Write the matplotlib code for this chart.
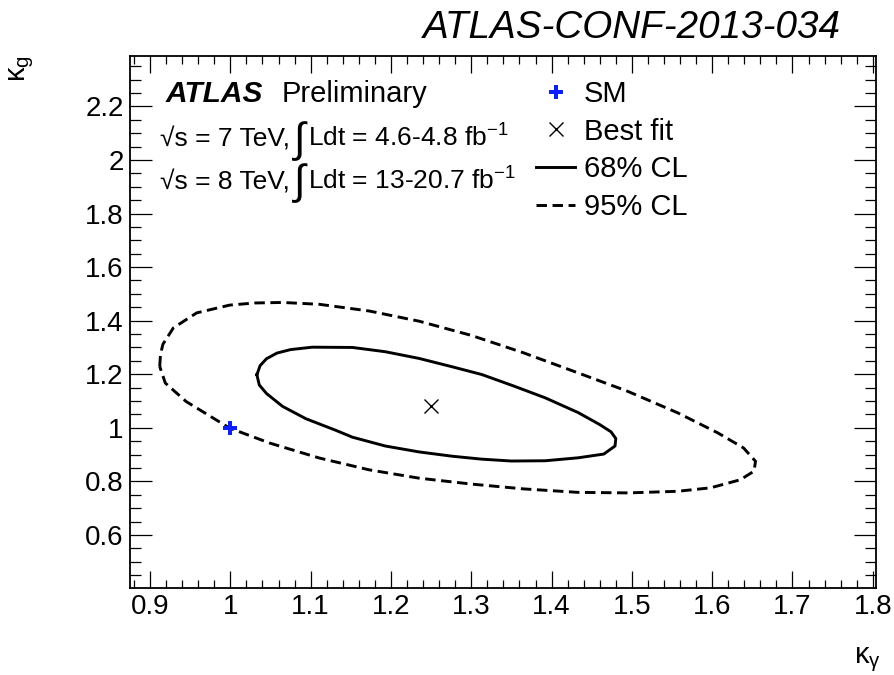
import numpy as np
import matplotlib
matplotlib.use("Agg")
import matplotlib.pyplot as plt
from matplotlib.ticker import MultipleLocator, FuncFormatter

plt.rcParams['font.family'] = ['Liberation Sans', 'DejaVu Sans']
plt.rcParams['mathtext.fontset'] = 'custom'
plt.rcParams['mathtext.rm'] = 'Liberation Sans'
plt.rcParams['mathtext.it'] = 'Liberation Sans:italic'
plt.rcParams['mathtext.bf'] = 'Liberation Sans:bold'

# ---------------------------------------------------------------------------
# Data: (kappa_gamma, kappa_g) plane
# ---------------------------------------------------------------------------

SM_KGAMMA, SM_KG = [1.0], [1.0]
BEST_KGAMMA, BEST_KG = [1.25], [1.08]

# 68% CL contour around the best fit
CL68_KGAMMA = [1.033, 1.037, 1.045, 1.058, 1.075, 1.102, 1.152, 1.193, 1.235,
               1.276, 1.313, 1.352, 1.392, 1.433, 1.460, 1.474, 1.480, 1.479,
               1.465, 1.433, 1.392, 1.350, 1.313, 1.276, 1.235, 1.193, 1.152,
               1.131, 1.094, 1.065, 1.045, 1.036]
CL68_KG = [1.198, 1.232, 1.258, 1.279, 1.292, 1.301, 1.300, 1.284, 1.259,
           1.228, 1.199, 1.157, 1.112, 1.057, 1.012, 0.985, 0.960, 0.932,
           0.902, 0.888, 0.877, 0.876, 0.883, 0.894, 0.910, 0.932, 0.965,
           0.991, 1.034, 1.080, 1.128, 1.160]

# 95% CL contour
CL95_KGAMMA = [0.912, 0.913, 0.916, 0.929, 0.958, 0.999, 1.030, 1.065, 1.111,
               1.173, 1.235, 1.300, 1.365, 1.433, 1.495, 1.557, 1.607, 1.639,
               1.654, 1.652, 1.635, 1.598, 1.557, 1.495, 1.433, 1.365, 1.300,
               1.235, 1.173, 1.111, 1.049, 0.999, 0.945, 0.919]
CL95_KG = [1.229, 1.275, 1.312, 1.373, 1.429, 1.458, 1.466, 1.468, 1.461,
           1.436, 1.398, 1.345, 1.280, 1.205, 1.136, 1.056, 0.981, 0.925,
           0.875, 0.838, 0.806, 0.776, 0.763, 0.757, 0.759, 0.772, 0.790,
           0.812, 0.843, 0.887, 0.943, 0.999, 1.098, 1.167]

XLIM = (0.875, 1.804)
YLIM = (0.402, 2.388)


def closed(vals):
    return np.append(vals, vals[0])


# ---------------------------------------------------------------------------
# Plot
# ---------------------------------------------------------------------------

W, H = 894, 675
fig = plt.figure(figsize=(W / 100, H / 100), dpi=100)
ax = fig.add_axes([130 / W, (H - 588) / H, 746 / W, 532 / H])

h68, = ax.plot(closed(CL68_KGAMMA), closed(CL68_KG), color='black', lw=2.1,
               solid_joinstyle='round')
h95, = ax.plot(closed(CL95_KGAMMA), closed(CL95_KG), color='black', lw=2.1,
               linestyle=(0, (3.6, 1.9)))
hsm, = ax.plot(SM_KGAMMA, SM_KG, linestyle='none', marker='P', ms=9.5,
               color='#0a1eff', mew=0)
hbf, = ax.plot(BEST_KGAMMA, BEST_KG, linestyle='none', marker='x', ms=10,
               color='black', mew=1.0)

ax.set_xlim(*XLIM)
ax.set_ylim(*YLIM)

fmt = FuncFormatter(lambda v, pos: f'{v:g}')
ax.xaxis.set_major_locator(MultipleLocator(0.1))
ax.xaxis.set_minor_locator(MultipleLocator(0.02))
ax.yaxis.set_major_locator(MultipleLocator(0.2))
ax.yaxis.set_minor_locator(MultipleLocator(0.05))
ax.xaxis.set_major_formatter(fmt)
ax.yaxis.set_major_formatter(fmt)

ax.tick_params(which='both', direction='in', top=True, right=True,
               labelsize=20, width=0.9, color='black')
ax.tick_params(axis='x', which='major', length=12, pad=4.5)
ax.tick_params(axis='x', which='minor', length=5.8)
ax.tick_params(axis='y', which='major', length=16, pad=4.5)
ax.tick_params(axis='y', which='minor', length=8)
for sp in ax.spines.values():
    sp.set_linewidth(1.3)

# axis titles, ROOT style at the ends of the axes
fig.text(22 / W, 1 - 55 / H, r'$\mathrm{\kappa_{g}}$', rotation=90,
         ha='center', va='top', fontsize=21)
fig.text(881 / W, 1 - 663 / H, r'$\mathrm{\kappa_{\gamma}}$',
         ha='right', va='baseline', fontsize=21)

fig.text(841 / W, 1 - 38 / H, 'ATLAS-CONF-2013-034', ha='right',
         va='baseline', fontsize=27.8, style='italic')


def ax_pos(px, py):
    return ((px - 130) / 746, (588 - py) / 532)


ax.text(*ax_pos(166, 102), 'ATLAS', transform=ax.transAxes, fontsize=21.5,
        fontweight='bold', style='italic', va='baseline')
ax.text(*ax_pos(282, 102), 'Preliminary', transform=ax.transAxes,
        fontsize=21, va='baseline')

lumi_lines = [('7', '4.6-4.8', 147), ('8', '13-20.7', 189.5)]
for sqrt_s, lumi, base in lumi_lines:
    ax.text(*ax_pos(160, base), f'\u221as = {sqrt_s} TeV,',
            transform=ax.transAxes, fontsize=19, va='baseline')
    ax.text(*ax_pos(294, base + 5), '\u222b', transform=ax.transAxes,
            fontsize=30, va='baseline')
    ax.text(*ax_pos(308, base), f'Ldt = {lumi} fb$^{{-1}}$',
            transform=ax.transAxes, fontsize=19, va='baseline')

ax.legend([hsm, hbf, h68, h95], ['SM', 'Best fit', '68% CL', '95% CL'],
          loc='upper left', bbox_to_anchor=ax_pos(536, 80), frameon=False,
          fontsize=21, handlelength=1.35, handletextpad=0.28,
          labelspacing=0.33, borderpad=0, borderaxespad=0)

fig.savefig('out.png', dpi=100)
